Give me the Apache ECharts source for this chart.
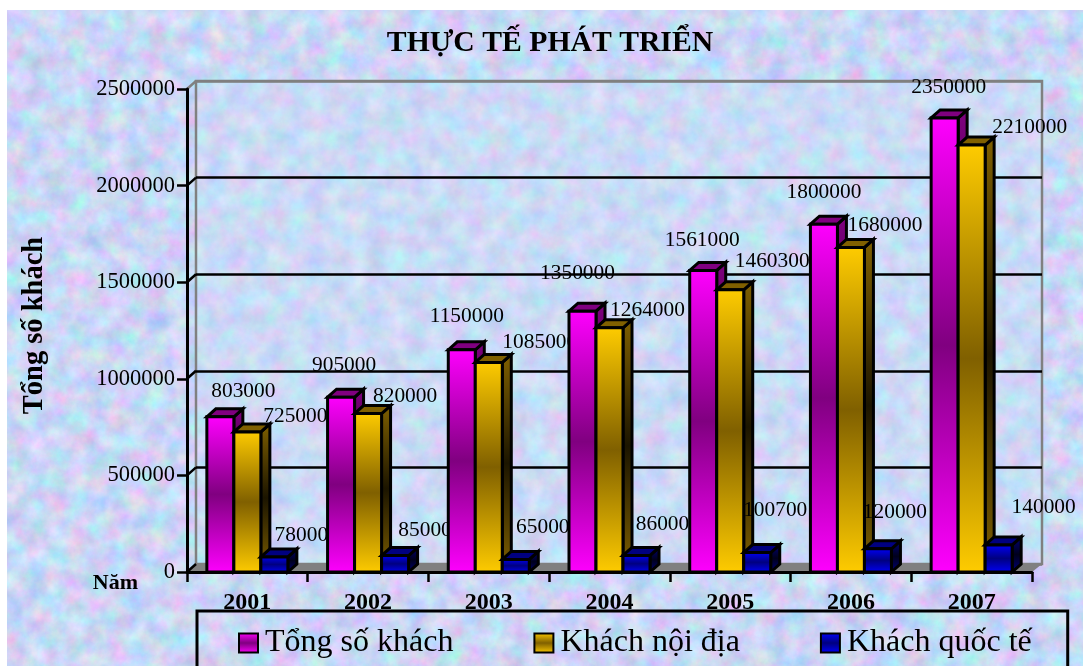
<!DOCTYPE html>
<html>
<head>
<meta charset="utf-8">
<title>Thực tế phát triển</title>
<style>
html, body { margin: 0; padding: 0; background: #fff; overflow: hidden; }
#bg {
  position: absolute; left: 7px; top: 10px; width: 1076px; height: 656px;
  background-image: url("data:image/svg+xml;utf8,<svg xmlns='http://www.w3.org/2000/svg' width='1076' height='656'><filter id='a' x='0' y='0' width='100%' height='100%' color-interpolation-filters='sRGB'><feTurbulence type='fractalNoise' baseFrequency='0.05' numOctaves='5' seed='7'/><feColorMatrix values='0.42 0 0 0 0.58  -0.1 0.3 0 0 0.74  0 0 0.18 0 0.87  0 0 0 0 1'/></filter><rect width='100%' height='100%' filter='url(%23a)'/></svg>");
}
#chart { position: absolute; left: 0; top: 0; width: 1083px; height: 666px; }
</style>
</head>
<body>
<div id="bg"></div>
<div id="chart"></div>
<script src="https://cdn.jsdelivr.net/npm/echarts@6/dist/echarts.min.js"></script>
<script>
const years = ["2001", "2002", "2003", "2004", "2005", "2006", "2007"];
const tongSoKhach = [803000, 905000, 1150000, 1350000, 1561000, 1800000, 2350000];
const khachNoiDia = [725000, 820000, 1085000, 1264000, 1460300, 1680000, 2210000];
const khachQuocTe = [78000, 85000, 65000, 86000, 100700, 120000, 140000];
const valueTicks = [0, 500000, 1000000, 1500000, 2000000, 2500000];

// hand placed labels: [dx from category centre, dy from bar top]
const labelShiftTong = [[-4, -25], [-24, -32], [-22, -33], [-32, -38], [-28, -30], [-27, -32], [-23, -31]];
const labelShiftNoiDia = [[48, -16], [37, -17], [51, -20], [38, -17], [42, -28], [34, -22], [58, -18]];
const labelShiftQuocTe = [[54, -22], [57, -25], [54, -32], [53, -31], [45, -42], [44, -36], [72, -38]];

const FONT = '"Liberation Serif", "Times New Roman", serif';
const DEPTH_X = 9;
const DEPTH_Y = 8;

function tripleGradient(outer, middle) {
  return new echarts.graphic.LinearGradient(0, 0, 0, 1, [
    { offset: 0, color: outer },
    { offset: 0.5, color: middle },
    { offset: 1, color: outer },
  ]);
}

function barSeries(name, values, slot, colors, shifts) {
  const front = tripleGradient(colors.front, colors.mid);
  const side = tripleGradient(colors.top, colors.dark);
  const edge = { stroke: "#000", lineWidth: 3, lineJoin: "miter" };
  return {
    name: name,
    type: "custom",
    coordinateSystem: "cartesian2d",
    xAxisIndex: 0,
    yAxisIndex: 0,
    clip: false,
    silent: true,
    itemStyle: { color: front, borderColor: "#000", borderWidth: 3 },
    encode: { x: 0, y: 1 },
    data: values.map((v, i) => [i, v]),
    renderItem(params, api) {
      const i = api.value(0);
      const v = api.value(1);
      const top = api.coord([i, v]);
      const base = api.coord([i, 0]);
      const w = api.size([1, 0])[0] * 0.2237;
      const x0 = top[0] + (slot - 1.5) * w;
      const x1 = x0 + w;
      const z = 10 * (i + 1) + slot;
      const shift = shifts[i];
      return {
        type: "group",
        children: [
          {
            type: "polygon",
            z2: z,
            shape: { points: [[x1, top[1]], [x1 + DEPTH_X, top[1] - DEPTH_Y], [x1 + DEPTH_X, base[1] - DEPTH_Y], [x1, base[1]]] },
            style: Object.assign({ fill: side }, edge),
          },
          {
            type: "polygon",
            z2: z,
            shape: { points: [[x0, top[1]], [x0 + DEPTH_X, top[1] - DEPTH_Y], [x1 + DEPTH_X, top[1] - DEPTH_Y], [x1, top[1]]] },
            style: Object.assign({ fill: colors.top }, edge),
          },
          {
            type: "rect",
            z2: z,
            shape: { x: x0, y: top[1], width: w, height: base[1] - top[1] },
            style: Object.assign({ fill: front }, edge),
          },
          {
            type: "text",
            z2: 10 * (i + 1) + 5,
            style: {
              text: String(v),
              x: top[0] + shift[0],
              y: top[1] + shift[1],
              align: "center",
              verticalAlign: "middle",
              font: "21.4px " + FONT,
              fill: "#000",
            },
          },
        ],
      };
    },
  };
}

// floor and the small slanted lines joining the axis to the back wall
const frameSeries = {
  type: "custom",
  coordinateSystem: "cartesian2d",
  xAxisIndex: 0,
  yAxisIndex: 0,
  clip: false,
  silent: true,
  encode: { y: 0 },
  data: valueTicks.map((v) => [v]),
  renderItem(params, api) {
    const v = api.value(0);
    const box = params.coordSys;
    const y = api.coord([0, v])[1];
    const children = [
      {
        type: "line",
        z2: 1,
        shape: { x1: box.x, y1: y, x2: box.x + DEPTH_X, y2: y - DEPTH_Y },
        style: { stroke: v === 2500000 ? "#808080" : "#000", lineWidth: 2.5 },
      },
    ];
    if (v === 0) {
      children.unshift({
        type: "polygon",
        z2: 0,
        shape: {
          points: [[box.x, y], [box.x + DEPTH_X, y - DEPTH_Y], [box.x + box.width + 10, y - DEPTH_Y], [box.x + box.width, y]],
        },
        style: { fill: "#808080" },
      });
    }
    return { type: "group", children: children };
  },
};

const option = {
  animation: false,
  backgroundColor: "transparent",
  textStyle: { fontFamily: FONT, color: "#000" },
  title: {
    text: "THỰC TẾ PHÁT TRIỂN",
    left: 545,
    top: 23,
    textAlign: "center",
    textStyle: { fontFamily: FONT, fontSize: 29.7, fontWeight: "bold", color: "#000" },
  },
  grid: [
    { left: 187, top: 89, width: 845, height: 483 },
    {
      left: 196, top: 81, width: 846, height: 483,
      show: true,
      borderColor: "#808080",
      borderWidth: 2.5,
      backgroundColor: "rgba(205,228,250,0.3)",
    },
  ],
  xAxis: [
    {
      type: "category",
      gridIndex: 0,
      data: years,
      z: 5,
      boundaryGap: true,
      axisLine: { lineStyle: { color: "#000", width: 3 } },
      axisTick: { show: true, length: 10, alignWithLabel: false, lineStyle: { color: "#000", width: 2.5 } },
      axisLabel: { color: "#000", fontFamily: FONT, fontSize: 24, fontWeight: "bold", margin: 19, interval: 0 },
      name: "Năm",
      nameLocation: "start",
      nameGap: 49,
      nameTextStyle: { color: "#000", fontFamily: FONT, fontSize: 22, fontWeight: "bold", verticalAlign: "top" },
    },
    { type: "category", gridIndex: 1, data: years, show: false },
  ],
  yAxis: [
    {
      type: "value",
      gridIndex: 0,
      min: 0,
      max: 2500000,
      interval: 500000,
      z: 5,
      axisLine: { show: true, lineStyle: { color: "#000", width: 3 } },
      axisTick: { show: true, length: 10, lineStyle: { color: "#000", width: 2.5 } },
      axisLabel: {
        color: "#000",
        fontFamily: FONT,
        fontSize: 22.5,
        margin: 12,
        formatter: (v) => String(v),
      },
      splitLine: { show: false },
      name: "Tổng số khách",
      nameLocation: "middle",
      nameRotate: 90,
      nameGap: 138,
      nameMoveOverlap: false,
      nameTextStyle: { color: "#000", fontFamily: FONT, fontSize: 28.5, fontWeight: "bold", padding: [0, 0, 0, 10] },
    },
    {
      type: "value",
      gridIndex: 1,
      min: 0,
      max: 2500000,
      interval: 500000,
      axisLine: { show: false },
      axisTick: { show: false },
      axisLabel: { show: false },
      splitLine: {
        show: true,
        lineStyle: { color: ["#808080", "#000", "#000", "#000", "#000", "#808080"], width: 2.5, type: "solid" },
      },
    },
  ],
  legend: {
    left: 197,
    top: 611,
    orient: "horizontal",
    selectedMode: false,
    icon: "rect",
    itemWidth: 19,
    itemHeight: 19,
    itemGap: 80,
    borderColor: "#000",
    borderWidth: 3,
    padding: [16, 36, 40, 41],
    textStyle: { fontFamily: FONT, fontSize: 32, color: "#000", padding: [0, 0, 0, 2] },
    data: ["Tổng số khách", "Khách nội địa", "Khách quốc tế"],
  },
  series: [
    frameSeries,
    barSeries("Tổng số khách", tongSoKhach, 0, { front: "#ff00ff", mid: "#800080", top: "#800080", dark: "#240024" }, labelShiftTong),
    barSeries("Khách nội địa", khachNoiDia, 1, { front: "#ffcc00", mid: "#806000", top: "#806000", dark: "#1c1500" }, labelShiftNoiDia),
    barSeries("Khách quốc tế", khachQuocTe, 2, { front: "#0000ff", mid: "#000080", top: "#000080", dark: "#00001c" }, labelShiftQuocTe),
  ],
};

const myChart = echarts.init(document.getElementById("chart"), null, { renderer: "canvas" });
myChart.setOption(option);
window.addEventListener("resize", () => {
  myChart.resize();
});
</script>
</body>
</html>
